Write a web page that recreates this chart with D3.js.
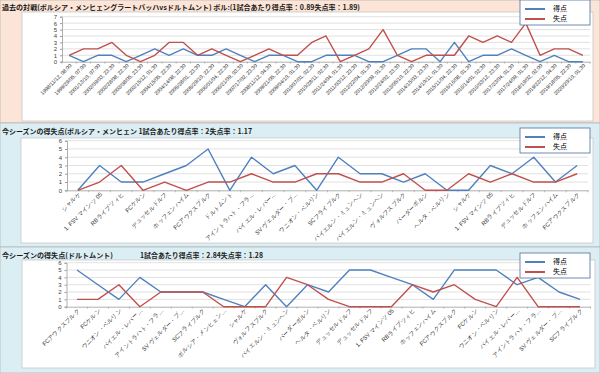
<!DOCTYPE html>
<html>
<head>
<meta charset="utf-8">
<script src="https://cdn.jsdelivr.net/npm/d3@7"></script>
<style>
body { margin: 0; }
svg { display: block; font-family: "Noto Sans CJK JP", sans-serif; }
</style>
</head>
<body>
<svg id="chart" width="600" height="373"></svg>
<script>
// 過去の対戦
const pastDates = [
  "1998/11/12, 08:00", "1999/29/05, 07:00", "2001/13/10, 07:00", "2002/09/03, 23:30",
  "2002/28/08, 22:30", "2003/08/05, 23:30", "2003/15/12, 01:30", "2004/15/05, 22:30",
  "2004/14/08, 22:30", "2005/28/01, 23:30", "2005/29/10, 22:30", "2006/01/04, 22:30",
  "2006/21/09, 03:30", "2007/17/02, 23:30", "2008/11/12, 04:30", "2009/21/05, 22:30",
  "2009/04/10, 01:30", "2010/07/01, 02:30", "2010/28/11, 02:30", "2011/24/04, 01:30",
  "2011/03/12, 23:30", "2012/22/04, 01:30", "2012/30/09, 01:30", "2013/24/02, 23:30",
  "2013/05/10, 22:30", "2014/15/03, 23:30", "2014/10/11, 01:30", "2015/11/04, 22:30",
  "2015/16/08, 01:30", "2016/14/01, 02:30", "2016/03/12, 23:30", "2017/23/04, 01:30",
  "2017/24/09, 01:30", "2018/19/02, 02:00", "2019/22/12, 04:30", "2019/18/05, 22:30",
  "2020/20/10, 01:30"
];
const pastFor = [1,0,1,1,0,1,2,1,2,1,1,2,1,0,1,1,0,0,1,1,1,0,0,1,2,2,0,3,0,1,1,2,1,0,1,0,0];
const pastAgainst = [1,2,2,3,1,0,1,3,3,1,2,1,0,1,2,1,1,3,4,0,1,2,5,1,0,1,1,1,4,3,4,3,6,1,2,2,1];

// 今シーズン(ボルシア・メンヒェングラートバッハ)
const gladTeams = [
  "シャルケ", "1. FSV マインツ 05", "RBライプツィヒ", "FCケルン", "デュッセルドルフ",
  "ホッフェンハイム", "FCアウクスブルク", "ドルトムント", "アイントラハト・フラ…",
  "バイエル・レバー…", "SV ヴェルダー・ブ…", "ウニオン・ベルリン", "SCフライブルク",
  "バイエルン・ミュンヘン", "バイエルン・ミュンヘン", "ヴォルフスブルク", "パーダーボルン",
  "ヘルタ・ベルリン", "シャルケ", "1. FSV マインツ 05", "RBライプツィヒ", "デュッセルドルフ",
  "ホッフェンハイム", "FCアウクスブルク"
];
const gladFor = [0,3,1,1,2,3,5,0,4,2,3,0,4,2,2,1,2,0,0,3,2,4,1,3];
const gladAgainst = [0,1,3,0,1,0,1,1,2,1,1,2,2,1,1,2,0,0,2,1,2,1,1,2];

// 今シーズン(ドルトムント)
const bvbTeams = [
  "FCアウクスブルク", "FCケルン", "ウニオン・ベルリン", "バイエル・レバー…",
  "アイントラハト・フラ…", "SV ヴェルダー・ブ…", "SCフライブルク", "ボルシア・メンヒェン…",
  "シャルケ", "ヴォルフスブルク", "バイエルン・ミュンヘン", "パーダーボルン", "ヘルタ・ベルリン",
  "デュッセルドルフ", "デュッセルドルフ", "1. FSV マインツ 05", "RBライプツィヒ",
  "ホッフェンハイム", "FCアウクスブルク", "FCケルン", "ウニオン・ベルリン", "バイエル・レバー…",
  "アイントラハト・フラ…", "SV ヴェルダー・ブ…", "SCフライブルク"
];
const bvbFor = [5,3,1,4,2,2,2,1,0,3,0,3,2,5,5,4,3,1,5,5,5,3,4,2,1];
const bvbAgainst = [1,1,3,0,2,2,2,0,0,0,4,3,1,0,0,0,3,2,3,1,0,4,0,0,0];

const seriesNames = ["得点", "失点"];
const colors = ["#4f81bd", "#c0504d"];

const svg = d3.select("#chart");

// 背景パネル
svg.append("rect").attr("x", 0).attr("y", 0).attr("width", 600).attr("height", 123)
  .attr("fill", "#fce4d6").attr("stroke", "#b7b7b7").attr("stroke-width", 0.8);
svg.append("rect").attr("x", 0).attr("y", 123).attr("width", 600).attr("height", 124)
  .attr("fill", "#dbeef4").attr("stroke", "#b7b7b7").attr("stroke-width", 0.8);
svg.append("rect").attr("x", 0).attr("y", 247).attr("width", 600).attr("height", 126)
  .attr("fill", "#dbeef4").attr("stroke", "#b7b7b7").attr("stroke-width", 0.8);

function title(txt, x, y, w) {
  svg.append("text").attr("x", x).attr("y", y)
    .attr("font-size", 7).attr("font-weight", "bold").attr("fill", "#1a1a1a")
    .attr("textLength", w).attr("lengthAdjust", "spacingAndGlyphs")
    .text(txt);
}

function drawChart(o) {
  const g = svg.append("g");

  g.append("rect")
    .attr("x", o.box[0]).attr("y", o.box[1]).attr("width", o.box[2]).attr("height", o.box[3])
    .attr("fill", "#fff").attr("stroke", "#c9c9c9").attr("stroke-width", 0.8);

  const x = d3.scalePoint().domain(d3.range(o.labels.length)).range([o.x0, o.x1]).padding(0.5);
  const y = d3.scaleLinear().domain([0, o.ymax]).range([o.yBottom, o.yTop]);

  // グリッド線
  g.selectAll(".grid").data(d3.range(1, o.ymax + 1)).join("line")
    .attr("x1", o.x0).attr("x2", o.x1)
    .attr("y1", d => y(d)).attr("y2", d => y(d))
    .attr("stroke", "#d9d9d9").attr("stroke-width", 0.8);

  // 縦軸
  const yAxis = g.append("g").attr("transform", `translate(${o.x0},0)`)
    .call(d3.axisLeft(y).ticks(o.ymax).tickSize(2).tickPadding(3));
  yAxis.select(".domain").attr("stroke", "#9a9a9a").attr("stroke-width", 0.8);
  yAxis.selectAll(".tick line").attr("stroke", "#9a9a9a");
  yAxis.selectAll("text").attr("font-size", 6).attr("fill", "#404040")
    .attr("font-family", "Liberation Sans, sans-serif");

  // 横軸
  const xAxis = g.append("g").attr("transform", `translate(0,${o.yBottom})`)
    .attr("fill", "#333")
    .call(d3.axisBottom(x).tickSize(0).tickFormat(i => o.labels[i]));
  xAxis.select(".domain").attr("stroke", "#9a9a9a").attr("stroke-width", 0.8);
  xAxis.selectAll("text")
    .attr("font-size", o.labelSize).attr("fill", "#2b2b2b")
    .attr("text-anchor", "end")
    .attr("transform", "translate(1,3) rotate(-45)")
    .attr("x", 0).attr("y", 0).attr("dy", "0.35em");

  // 目盛り(区切り)
  g.selectAll(".xt").data(d3.range(o.labels.length + 1)).join("line")
    .attr("x1", i => o.x0 + i * x.step()).attr("x2", i => o.x0 + i * x.step())
    .attr("y1", o.yBottom).attr("y2", o.yBottom + 2)
    .attr("stroke", "#9a9a9a").attr("stroke-width", 0.6);

  const line = d3.line().x((d, i) => x(i)).y(d => y(d));
  [o.scored, o.conceded].forEach((s, k) => {
    g.append("path").datum(s)
      .attr("fill", "none").attr("stroke", colors[k]).attr("stroke-width", 1.4)
      .attr("stroke-linejoin", "round")
      .attr("d", line);
  });

  // 凡例
  const lg = g.append("g").attr("transform", `translate(520,${o.legendTop})`);
  lg.append("rect").attr("width", 70).attr("height", 25)
    .attr("fill", "#fff").attr("stroke", "#4f6f9f").attr("stroke-width", 0.8);
  seriesNames.forEach((n, k) => {
    lg.append("line").attr("x1", 5).attr("x2", 25)
      .attr("y1", 9 + k * 10).attr("y2", 9 + k * 10)
      .attr("stroke", colors[k]).attr("stroke-width", 2);
    lg.append("text").attr("x", 33).attr("y", 9 + k * 10).attr("dy", "0.35em")
      .attr("font-size", 7).attr("fill", "#000").text(n);
  });
}

title("過去の対戦(ボルシア・メンヒェングラートバッハvsドルトムント)  ボル:(1試合あたり得点率：0.89失点率：1.89)", 2, 10, 358);
title("今シーズンの得失点(ボルシア・メンヒェン 1試合あたり得点率：2失点率：1.17", 2, 134, 250);
title("今シーズンの得失点(ドルトムント)", 2, 258, 111);
title("1試合あたり得点率：2.84失点率：1.28", 140, 258, 123);

drawChart({
  box: [22, 12, 571, 109], labels: pastDates, scored: pastFor, conceded: pastAgainst,
  x0: 62, x1: 590, yBottom: 61.7, yTop: 16.7, ymax: 7, labelSize: 5.2, legendTop: 0
});
drawChart({
  box: [21, 138, 572, 105], labels: gladTeams, scored: gladFor, conceded: gladAgainst,
  x0: 67, x1: 588, yBottom: 190.3, yTop: 140.7, ymax: 6, labelSize: 5.8, legendTop: 128
});
drawChart({
  box: [22, 260, 573, 108], labels: bvbTeams, scored: bvbFor, conceded: bvbAgainst,
  x0: 66.5, x1: 590.5, yBottom: 306.7, yTop: 262.7, ymax: 6, labelSize: 5.8, legendTop: 253
});
</script>
</body>
</html>
